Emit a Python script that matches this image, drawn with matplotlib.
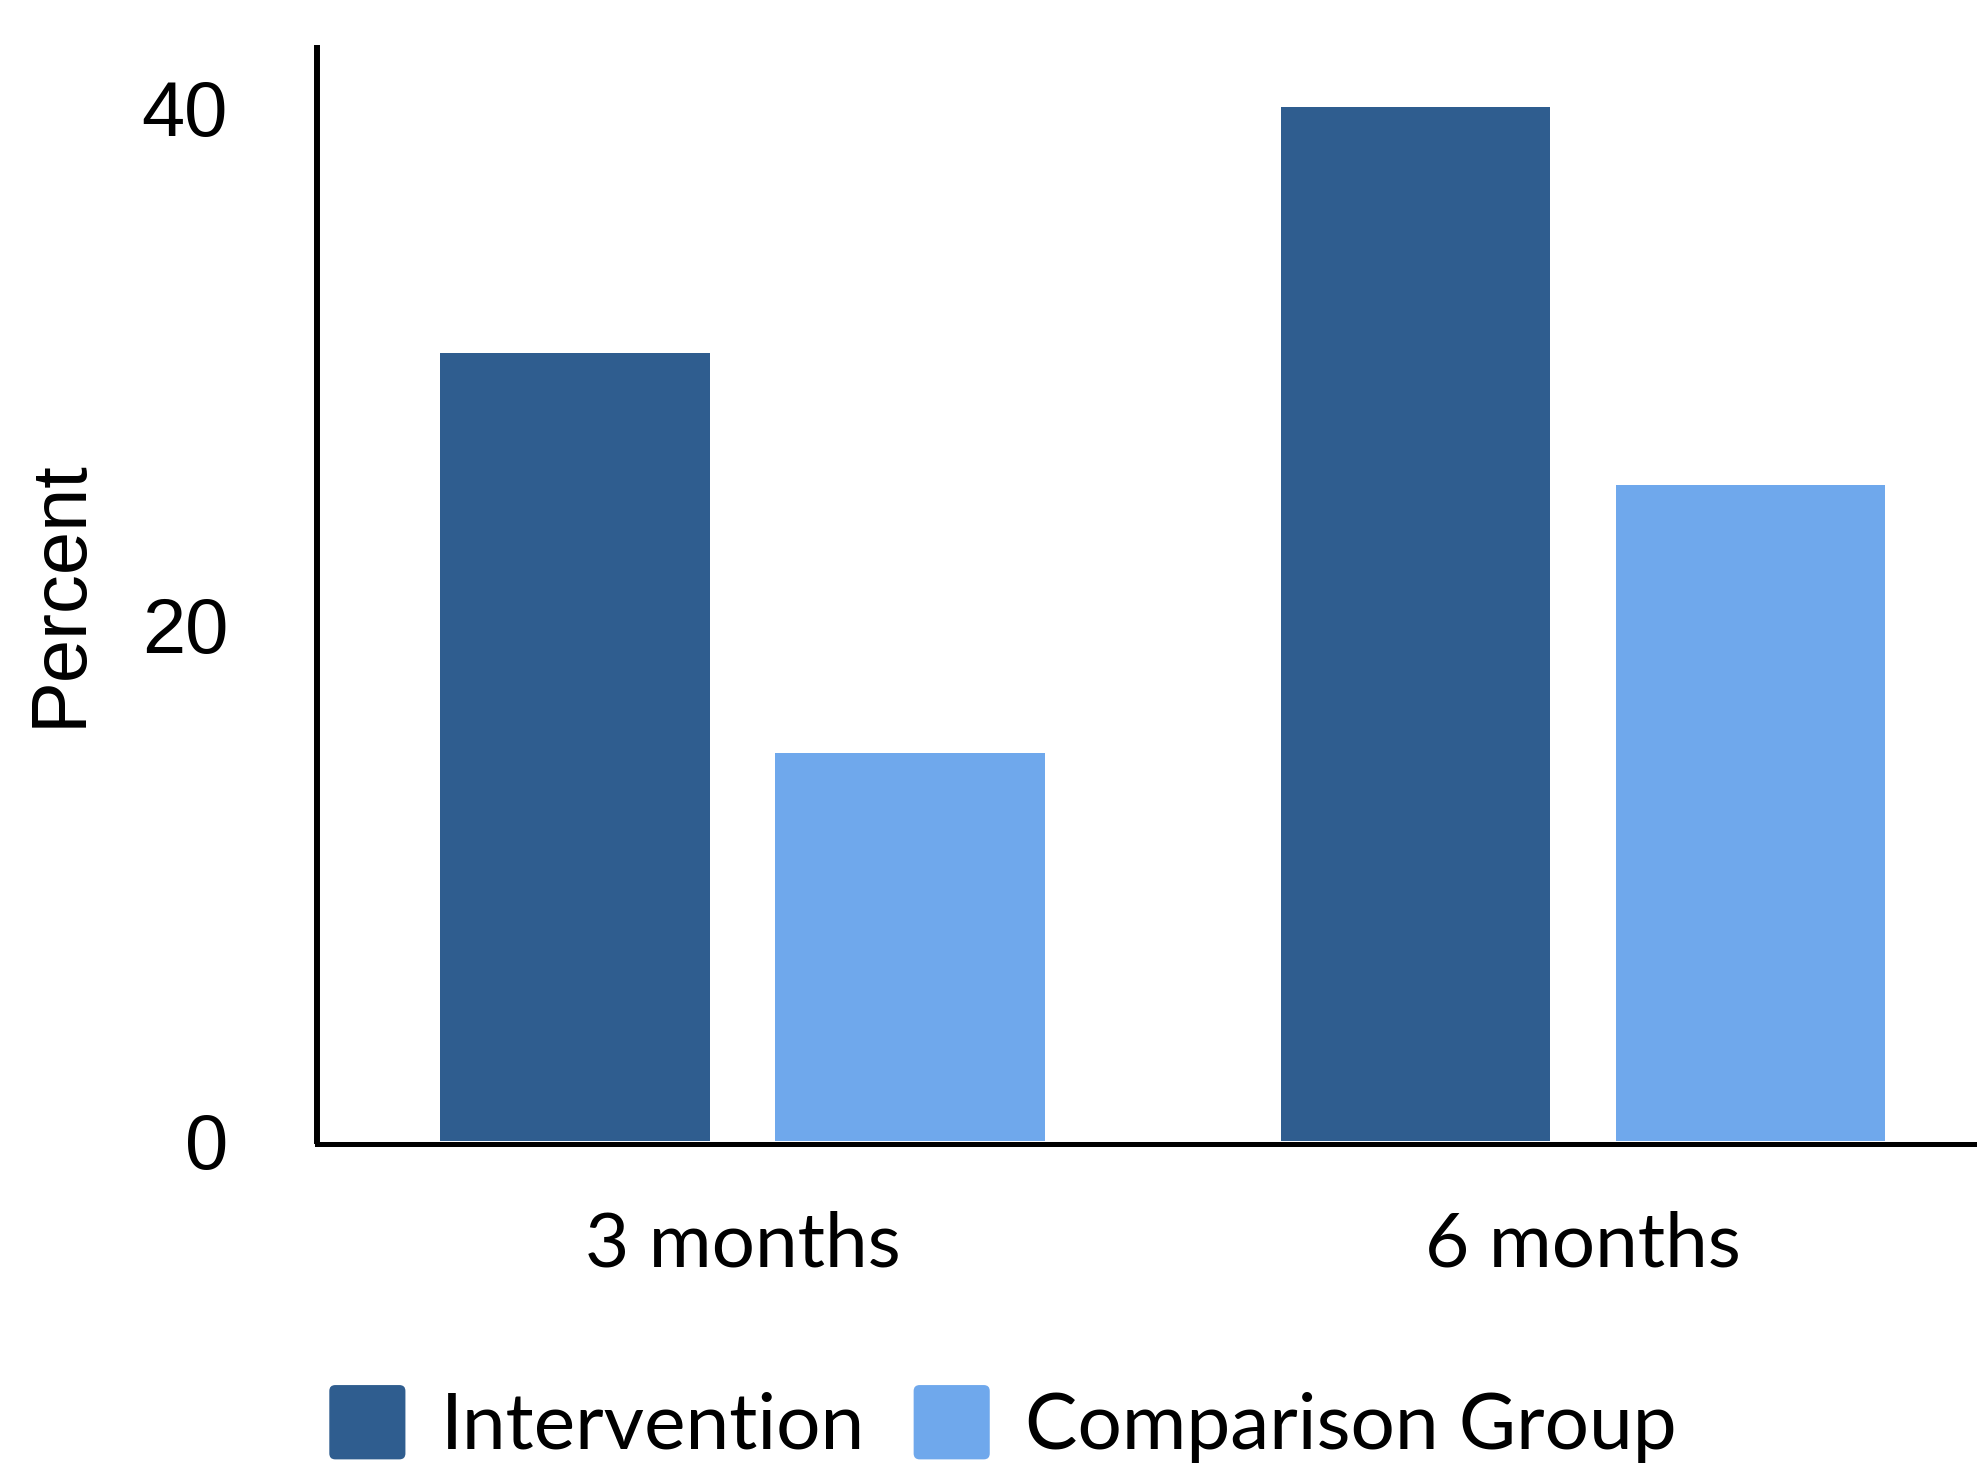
import matplotlib
matplotlib.use("Agg")
import matplotlib.pyplot as plt
import numpy as np
from matplotlib.patches import Patch, FancyBboxPatch
from matplotlib.legend_handler import HandlerPatch

categories = ["3 months", "6 months"]
intervention = [30.5, 40.0]
comparison = [15.0, 25.4]
series_names = ["Intervention", "Comparison Group"]
yticks = [0, 20, 40]

dark = "#2F5D8F"
light = "#6FA8EC"

W, H = 1977, 1463
fig = plt.figure(figsize=(W / 100, H / 100), dpi=100)
ax = fig.add_axes([317 / W, 1 - 1141 / H, (W - 317) / W, (1141 - 48) / H])

x = np.arange(len(categories))
bw = 0.3212
off = 0.1993
ax.bar(x - off, intervention, width=bw, color=dark, label=series_names[0], zorder=1)
ax.bar(x + off, comparison, width=bw, color=light, label=series_names[1], zorder=1)

ax.set_xlim(-0.5063, 1.4688)
ax.set_ylim(0, 42.3)

for s in ["top", "right"]:
    ax.spines[s].set_visible(False)
ax.spines["left"].set_linewidth(4.3)
ax.spines["bottom"].set_linewidth(3.6)
ax.spines["bottom"].set_position(("outward", 1.8))

ax.set_yticks(yticks)
ax.set_yticklabels([str(v) for v in yticks], fontsize=56, family="Liberation Sans")
ax.tick_params(axis="y", length=0, pad=64)
ax.set_xticks(x)
ax.set_xticklabels(categories, fontsize=55, family="Lato")
ax.tick_params(axis="x", length=0, pad=48)

fig.text(60 / W, 1 - 593 / H, "Percent", rotation=90, ha="center", va="center",
         fontsize=56, family="Liberation Sans")


class RoundHandler(HandlerPatch):
    def create_artists(self, legend, orig_handle, xdescent, ydescent, width, height,
                       fontsize, trans):
        r = 0.08 * min(width, height)
        p = FancyBboxPatch((-xdescent + r, -ydescent + r), width - 2 * r, height - 2 * r,
                           boxstyle=f"round,pad={r},rounding_size={r}",
                           facecolor=orig_handle.get_facecolor(), edgecolor="none",
                           transform=trans)
        return [p]


handles = [Patch(facecolor=dark, edgecolor="none"), Patch(facecolor=light, edgecolor="none")]
leg = fig.legend(handles, series_names, loc="center", bbox_to_anchor=(1003 / W, 1 - 1424 / H),
                 ncol=2, frameon=False, prop={"family": "Lato", "size": 56.5},
                 handlelength=0.97, handleheight=1.08, handletextpad=0.45,
                 columnspacing=0.62, borderpad=0, borderaxespad=0,
                 handler_map={Patch: RoundHandler()})

fig.savefig("out.png", dpi=100)
